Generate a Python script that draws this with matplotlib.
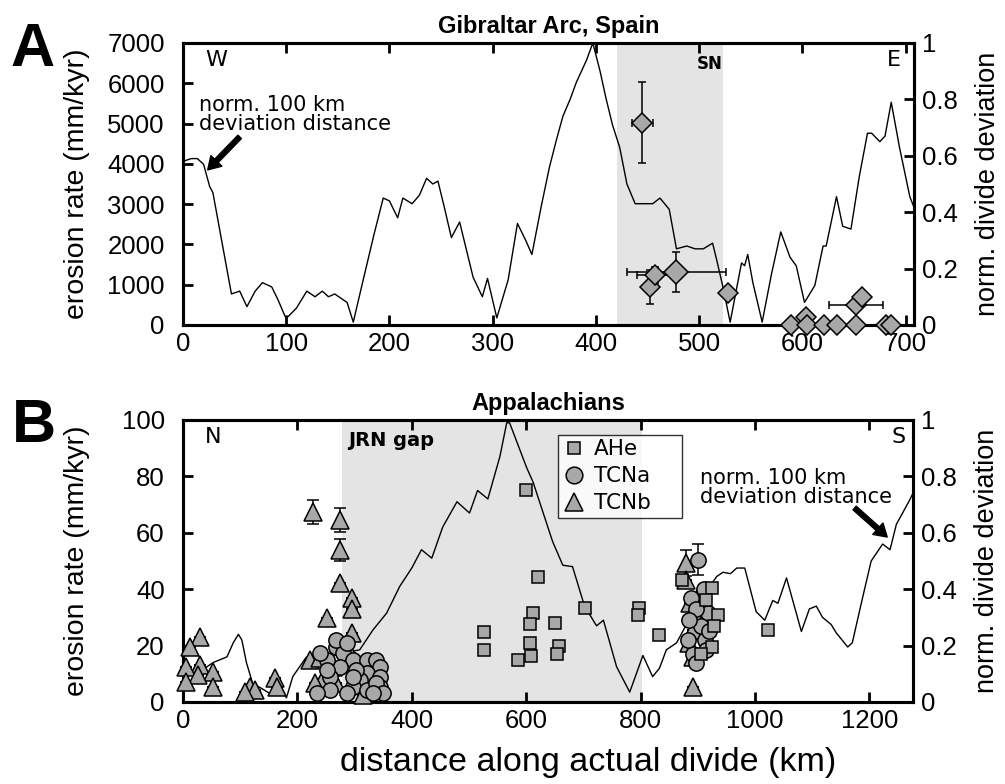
import numpy as np
import matplotlib
matplotlib.use("Agg")
import matplotlib.pyplot as plt
from matplotlib.ticker import FuncFormatter
from matplotlib.lines import Line2D

# ---- panel A: Gibraltar Arc ----
dev_a_km = [0, 8, 14, 20, 26, 29, 38, 47, 55, 62, 70, 77, 86, 92, 99, 102, 110, 120, 128, 135, 141,
            147, 159, 165, 173, 185, 194, 200, 208, 213, 222, 229, 236, 242, 247, 253, 260, 268, 275,
            281, 290, 295, 304, 315, 324, 332, 338, 347, 355, 362, 368, 375, 381, 391, 397, 404, 410,
            416, 423, 430, 438, 447, 455, 462, 471, 478, 488, 496, 504, 513, 517, 523, 530, 541, 544,
            547, 552, 561, 570, 579, 588, 594, 602, 612, 620, 623, 633, 639, 647, 655, 663, 667, 675,
            680, 686, 694, 704, 712]
dev_a_val = [0.58, 0.59, 0.59, 0.57, 0.49, 0.47, 0.29, 0.11, 0.12, 0.065, 0.12, 0.15, 0.135, 0.09, 0.03,
             0.03, 0.06, 0.12, 0.1, 0.12, 0.1, 0.11, 0.08, 0.01, 0.135, 0.32, 0.45, 0.44, 0.38, 0.45,
             0.43, 0.46, 0.52, 0.50, 0.51, 0.42, 0.31, 0.365, 0.26, 0.17, 0.10, 0.165, 0.025, 0.16,
             0.36, 0.3, 0.25, 0.42, 0.56, 0.66, 0.74, 0.8, 0.86, 0.94, 1.0, 0.90, 0.8, 0.71, 0.63, 0.50,
             0.43, 0.43, 0.43, 0.45, 0.41, 0.27, 0.28, 0.27, 0.27, 0.29, 0.23, 0.135, 0.01, 0.22, 0.21,
             0.25, 0.15, 0.01, 0.18, 0.33, 0.24, 0.21, 0.08, 0.14, 0.28, 0.28, 0.455, 0.35, 0.34, 0.525,
             0.68, 0.68, 0.65, 0.67, 0.79, 0.63, 0.455, 0.38]

gib_km = [445, 452, 457, 478, 528, 589, 603, 604, 621, 633, 652, 652, 658, 681, 686]
gib_rate = [5020, 950, 1250, 1320, 800, 0, 200, 0, 0, 0, 0, 500, 700, 0, 0]
gib_xerr = [10, 0, 17, 48, 0, 0, 0, 0, 0, 0, 0, 26, 0, 0, 0]
gib_yerr = [1000, 420, 200, 500, 0, 0, 0, 0, 0, 0, 0, 0, 0, 0, 0]
sn_zone = (420, 523)

# ---- panel B: Appalachians ----
dev_b_km = [0, 20, 42, 53, 77, 88, 97, 103, 111, 122, 136, 152, 169, 181, 192, 204, 216, 240, 270,
            309, 332, 356, 379, 400, 417, 435, 454, 479, 501, 515, 533, 554, 566, 571, 601, 612, 646,
            664, 681, 702, 723, 735, 758, 781, 804, 821, 833, 845, 863, 900, 933, 944, 957, 968, 982,
            1002, 1017, 1031, 1040, 1055, 1081, 1095, 1107, 1118, 1133, 1142, 1162, 1170, 1188, 1203,
            1223, 1236, 1247, 1270, 1276]
dev_b_val = [0.05, 0.08, 0.125, 0.14, 0.16, 0.21, 0.24, 0.22, 0.14, 0.065, 0.05, 0.03, 0.05, 0.015,
             0.09, 0.125, 0.16, 0.14, 0.17, 0.185, 0.255, 0.315, 0.41, 0.475, 0.54, 0.51, 0.62, 0.71,
             0.67, 0.75, 0.72, 0.87, 0.99, 0.99, 0.83, 0.78, 0.57, 0.485, 0.48, 0.34, 0.27, 0.29, 0.125,
             0.035, 0.165, 0.09, 0.12, 0.185, 0.21, 0.35, 0.445, 0.46, 0.455, 0.475, 0.475, 0.32, 0.29,
             0.36, 0.35, 0.44, 0.25, 0.33, 0.34, 0.30, 0.275, 0.245, 0.195, 0.21, 0.37, 0.50, 0.56, 0.54,
             0.63, 0.715, 0.74]

ahe_km = [599, 620, 702, 798, 795, 833, 612, 606, 650, 527, 527, 606, 609, 586, 658, 653, 1023,
          873, 924, 935, 929, 925, 915, 905]
ahe_rate = [75.2, 44.3, 33.3, 33.3, 30.9, 23.8, 31.6, 27.7, 28.0, 24.8, 18.4, 20.9, 16.3, 14.9,
            19.9, 17.0, 25.5, 43.3, 40.4, 31.0, 27.0, 19.5, 36.0, 17.0]

tcna_km = [268, 280, 297, 321, 338, 344, 321, 344, 309, 344, 297, 274, 257, 251, 239, 257, 234, 286,
           321, 338, 303, 268, 286, 251, 350, 333, 297,
           900, 918, 912, 891, 882, 914, 896, 905, 888, 920, 897, 885, 910]
tcna_rate = [19.6, 17.3, 14.9, 14.9, 14.9, 12.5, 10.2, 9.0, 7.8, 5.4, 5.4, 12.5, 9.0, 14.9, 17.3, 4.3,
             3.1, 3.1, 4.3, 6.6, 11.3, 22.0, 20.8, 11.3, 3.1, 3.1, 9.0,
             50.4, 31.5, 22.0, 17.0, 22.0, 18.4, 14.0, 27.0, 37.0, 25.0, 33.0, 29.0, 40.0]
tcna_err = [0] * 27 + [5.5] + [0] * 12

tcnb_km = [227, 274, 274, 274, 295, 295, 251, 295, 30, 12, 30, 6, 53, 27, 6, 53, 117, 126, 108,
           161, 164, 222, 239, 245, 231, 262, 268, 292, 315,
           880, 880, 903, 886, 891, 891, 891, 897, 885]
tcnb_rate = [67.4, 64.5, 53.9, 42.2, 36.9, 33.0, 29.8, 24.5, 23.0, 19.5, 13.1, 12.4, 10.6, 9.6, 7.1,
             5.3, 5.3, 4.3, 3.7, 8.5, 5.3, 14.9, 15.6, 8.0, 6.7, 12.4, 6.7, 17.4, 2.5,
             49.3, 43.3, 38.7, 35.0, 25.5, 16.0, 5.3, 30.0, 21.0]
tcnb_err = [4.2, 4.3, 4.0] + [0] * 26 + [4.5] + [0] * 8
jrn_zone = (278, 803)

GREY = '#a8a8a8'
SHADE = '#e4e4e4'
plt.rcParams['font.family'] = ['Liberation Sans', 'DejaVu Sans']

fig = plt.figure(figsize=(10.05, 7.84), dpi=100)
axA = fig.add_axes([0.182, 0.5855, 0.7274, 0.3597])
axB = fig.add_axes([0.182, 0.1046, 0.7264, 0.3597])


def style(ax, ax2):
    ax.set_zorder(ax2.get_zorder() + 1)
    ax.patch.set_visible(False)
    for a in (ax, ax2):
        for s in a.spines.values():
            s.set_linewidth(2.2)
    ax.tick_params(direction='in', length=7, width=2, labelsize=18.5)
    ax.tick_params(axis='y', pad=13)
    ax.tick_params(axis='x', pad=5)
    ax.tick_params(top=True, right=False)
    ax2.tick_params(direction='in', length=7, width=2, labelsize=18.5, pad=6, left=False, right=True)
    ax2.set_ylim(0, 1)
    ax2.set_yticks([0, 0.2, 0.4, 0.6, 0.8, 1])
    ax2.yaxis.set_major_formatter(FuncFormatter(lambda v, p: '%g' % v))
    ax2.set_ylabel('norm. divide deviation', fontsize=19.5)
    ax2.yaxis.set_label_coords(1.084, 0.5)
    ax.set_ylabel('erosion rate (mm/kyr)', fontsize=20.5)
    ax.yaxis.set_label_coords(-0.127, 0.5)


# panel A
axA2 = axA.twinx()
style(axA, axA2)
axA2.axvspan(*sn_zone, color=SHADE, lw=0, zorder=0)
axA2.plot(dev_a_km, dev_a_val, color='black', lw=1.0, zorder=2)
for i in range(len(gib_km)):
    big = gib_xerr[i] > 40
    axA.errorbar(gib_km[i], gib_rate[i], xerr=gib_xerr[i] or None, yerr=gib_yerr[i] or None,
                 fmt='D', ms=12 if big else 10, mfc=GREY, mec='black', mew=1.1,
                 ecolor='black', elinewidth=1.1, capsize=3, clip_on=False, zorder=3)
axA.set_xlim(0, 708)
axA.set_ylim(0, 7000)
axA.set_xticks(range(0, 701, 100))
axA.set_yticks(range(0, 7001, 1000))
axA.set_title('Gibraltar Arc, Spain', fontsize=17, fontweight='bold', pad=7)
axA.text(0.03, 0.975, 'W', transform=axA.transAxes, ha='left', va='top', fontsize=16, family='DejaVu Sans')
axA.text(0.982, 0.975, 'E', transform=axA.transAxes, ha='right', va='top', fontsize=16, family='DejaVu Sans')
axA.text(510, 6700, 'SN', ha='center', va='top', fontsize=12, fontweight='bold', family='DejaVu Sans')
axA2.text(16, 0.815, 'norm. 100 km\ndeviation distance', ha='left', va='top', fontsize=15,
          family='DejaVu Sans', linespacing=0.92)
axA2.annotate('', xy=(24, 0.55), xytext=(55, 0.667),
              arrowprops=dict(facecolor='black', edgecolor='black', width=3.5, headwidth=11,
                              headlength=9, shrink=0))

# panel B
axB2 = axB.twinx()
style(axB, axB2)
axB2.axvspan(*jrn_zone, color=SHADE, lw=0, zorder=0)
axB2.plot(dev_b_km, dev_b_val, color='black', lw=1.0, zorder=2)
mk = dict(mfc=GREY, mec='black', mew=1.1, ecolor='black', elinewidth=1.1, capsize=4,
          linestyle='none', clip_on=False)
axB.errorbar(tcnb_km, tcnb_rate, yerr=tcnb_err, fmt='^', ms=13, zorder=3, **mk)
axB.errorbar(tcna_km, tcna_rate, yerr=tcna_err, fmt='o', ms=11, zorder=4, **mk)
axB.errorbar(ahe_km, ahe_rate, fmt='s', ms=9, zorder=5, **mk)
axB.set_xlim(0, 1276)
axB.set_ylim(0, 100)
axB.set_xticks(range(0, 1201, 200))
axB.set_yticks(range(0, 101, 20))
axB.set_xlabel('distance along actual divide (km)', fontsize=24.5)
axB.xaxis.set_label_coords(0.555, -0.16)
axB.set_title('Appalachians', fontsize=17, fontweight='bold', pad=7)

handles = [Line2D([], [], ls='none', marker=m, ms=s, mfc=GREY, mec='black', mew=1.1)
           for m, s in (('s', 9), ('o', 12), ('^', 13))]
leg = axB.legend(handles, ['AHe', 'TCNa', 'TCNb'], loc='upper left',
                 bbox_to_anchor=(0.514, 0.0, 0.17, 0.947), mode='expand',
                 borderaxespad=0, frameon=True, fancybox=False, edgecolor='black', handletextpad=0.35,
                 borderpad=0.2, labelspacing=0.33, handlelength=1.1,
                 prop={'family': 'DejaVu Sans', 'size': 15.5})
leg.get_frame().set_linewidth(1.0)
axB.text(0.03, 0.975, 'N', transform=axB.transAxes, ha='left', va='top', fontsize=16, family='DejaVu Sans')
axB.text(0.99, 0.975, 'S', transform=axB.transAxes, ha='right', va='top', fontsize=16, family='DejaVu Sans')
axB.text(288, 96, 'JRN gap', ha='left', va='top', fontsize=14, fontweight='bold', family='DejaVu Sans')
axB2.text(903, 0.83, 'norm. 100 km\ndeviation distance', ha='left', va='top', fontsize=15,
          family='DejaVu Sans', linespacing=0.92)
axB2.annotate('', xy=(1231, 0.585), xytext=(1174, 0.688),
              arrowprops=dict(facecolor='black', edgecolor='black', width=3.5, headwidth=11,
                              headlength=9, shrink=0))

fig.text(0.01, 0.972, 'A', fontsize=44, fontweight='bold', va='top', ha='left')
fig.text(0.012, 0.492, 'B', fontsize=44, fontweight='bold', va='top', ha='left')

fig.savefig('out.png', dpi=100)
